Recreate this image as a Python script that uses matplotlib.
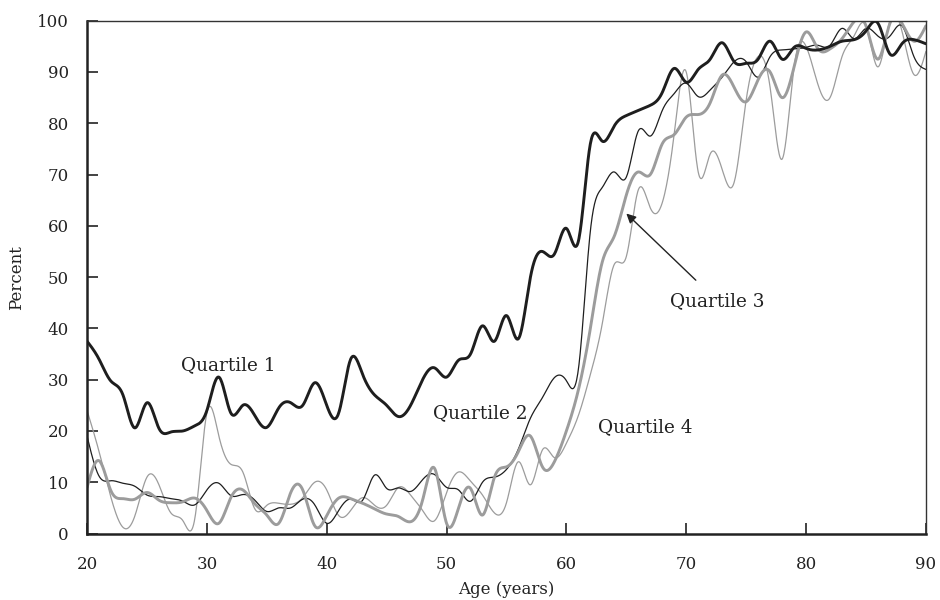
import numpy as np
import matplotlib
matplotlib.use("Agg")
import matplotlib.pyplot as plt

ages = list(range(20, 91))

q1 = [37.5, 34, 29.7, 27, 20.6, 25.5, 20.5, 19.8, 20, 21, 24, 30.5, 23.5, 25, 23, 20.7,
      24.5, 25.5, 25, 29.4, 25, 23.5, 34, 31, 27, 25, 22.8, 25, 30, 32.3, 30.5, 33.8,
      35, 40.5, 37.5, 42.5, 38, 50, 55, 54.5, 59.5, 57, 76, 76.5, 79.5, 81.5, 82.5,
      83.5, 86, 90.7, 88, 90.5, 92.5, 95.7, 92, 91.7, 92.5, 96, 92.5, 94.8, 94.6, 94.3,
      95, 96, 96.3, 98, 99.5, 93.5, 95.5, 96.3, 95.5]

q2 = [19, 11.2, 10.3, 9.8, 9.2, 7.5, 7.2, 6.8, 6.3, 5.6, 8.5, 9.8, 7.4, 7.6, 6.5, 4.3,
      5, 5, 6.7, 5.6, 2, 4.5, 6.7, 6.5, 11.4, 8.8, 8.9, 8.2, 10.5, 11.5, 9, 8.5, 6.3,
      10, 11, 12.5, 16.5, 22.5, 26.5, 30.4, 29.8, 32, 59, 67.5, 70.5, 69.5, 78.5, 77.5,
      82.5, 85.8, 87.8, 85.2, 86.5, 89, 92, 92, 89, 93, 94.3, 94.5, 94.8, 95.2, 95.2,
      98.5, 96.5, 98.5, 97, 97, 99, 93, 90.5]

q3 = [9, 14.2, 8.3, 6.8, 6.7, 8, 6.5, 6, 6.2, 6.9, 4.5, 2, 7, 8.5, 5.8, 3.6, 2, 8, 8.5,
      1.5, 3.5, 6.9, 6.8, 5.9, 4.8, 3.8, 3.3, 2.3, 6.5, 12.7, 2, 5, 8.8, 3.6, 11, 13,
      16, 19, 13, 14, 20, 28, 40, 53, 58, 66, 70.5, 70, 76, 77.8, 81.2, 81.7, 84, 89.4,
      87, 84.2, 88.5, 90, 85, 91, 97.8, 94.5, 94.5, 96.5, 99.8, 99, 92.5, 99.5, 99.5,
      96, 99]

q4 = [24, 16, 7, 1.2, 3.5, 11, 9.5, 4, 2.5, 3, 23.5, 19, 13.5, 12, 4.8, 5.5, 5.9, 5.7,
      7, 10, 8.5, 3.5, 4.5, 7, 5.5, 5.5, 9, 7.5, 4.5, 2.5, 8, 12, 10.2, 7.5, 4, 6, 14,
      9.5, 16.3, 14.8, 17.6, 23, 31, 41, 52.5, 54, 67, 63.5, 64.5, 78, 90, 70.5, 74,
      71, 68.5, 84.5, 93, 87, 73, 91, 95, 87.5, 85, 93, 97, 99, 91, 100, 98, 89.5, 94]

labels = ["Quartile 1", "Quartile 2", "Quartile 3", "Quartile 4"]


def smooth(x, y, n=20):
    """Natural cubic spline through the points, for drawing a smooth line."""
    x = np.asarray(x, float)
    y = np.asarray(y, float)
    m = len(x)
    h = np.diff(x)
    A = np.zeros((m, m))
    b = np.zeros(m)
    A[0, 0] = A[-1, -1] = 1
    for i in range(1, m - 1):
        A[i, i - 1] = h[i - 1]
        A[i, i] = 2 * (h[i - 1] + h[i])
        A[i, i + 1] = h[i]
        b[i] = 6 * ((y[i + 1] - y[i]) / h[i] - (y[i] - y[i - 1]) / h[i - 1])
    M = np.linalg.solve(A, b)
    xs, ys = [], []
    for i in range(m - 1):
        t = np.linspace(x[i], x[i + 1], n, endpoint=False)
        a = (x[i + 1] - t) / h[i]
        c = (t - x[i]) / h[i]
        s = (a * y[i] + c * y[i + 1]
             + ((a ** 3 - a) * M[i] + (c ** 3 - c) * M[i + 1]) * h[i] ** 2 / 6)
        xs.append(t)
        ys.append(s)
    xs.append([x[-1]])
    ys.append([y[-1]])
    return np.concatenate(xs), np.concatenate(ys)


plt.rcParams['font.family'] = ['DejaVu Serif']

fig = plt.figure(figsize=(9.4, 6.0), dpi=100)
ax = fig.add_axes([0.0926, 0.1108, 0.8924, 0.8547])

styles = [
    dict(color="#1e1e1e", lw=2.1),   # Q1
    dict(color="#1e1e1e", lw=0.9),   # Q2
    dict(color="#9c9c9c", lw=2.1),   # Q3
    dict(color="#9c9c9c", lw=0.9),   # Q4
]
order = [3, 1, 2, 0]
series = [q1, q2, q3, q4]
for k in order:
    sx, sy = smooth(ages, series[k])
    ax.plot(sx, sy, solid_capstyle="round", zorder=2 + (k == 0), **styles[k])

ax.set_xlim(20, 90)
ax.set_ylim(0, 100)
ax.set_xticks(range(20, 91, 10))
ax.set_yticks(range(0, 101, 10))
ax.tick_params(direction="in", length=8, width=1.2, labelsize=12, colors="#222222")
ax.tick_params(axis="x", pad=16)
ax.tick_params(axis="y", pad=13)
for side in ["left", "bottom"]:
    ax.spines[side].set_linewidth(1.8)
    ax.spines[side].set_color("#222222")
for side in ["top", "right"]:
    ax.spines[side].set_linewidth(1.0)
    ax.spines[side].set_color("#333333")

ax.set_xlabel("Age (years)", fontsize=12, color="#222222", labelpad=6)
ax.set_ylabel("Percent", fontsize=12, color="#222222", labelpad=9)

tkw = dict(fontsize=13.3, color="#222222", ha="center", va="center")
ax.text(31.75, 32.8, labels[0], **tkw)
ax.text(52.8, 23.5, labels[1], **tkw)
ax.text(66.6, 20.8, labels[3], **tkw)
ax.text(72.6, 45.3, labels[2], **tkw)
ax.annotate("", xy=(65.0, 62.4), xytext=(70.8, 49.4),
            arrowprops=dict(arrowstyle="-|>", color="#222222", lw=1.0,
                            mutation_scale=14, shrinkA=0, shrinkB=0))

fig.savefig("out.png", dpi=100)
